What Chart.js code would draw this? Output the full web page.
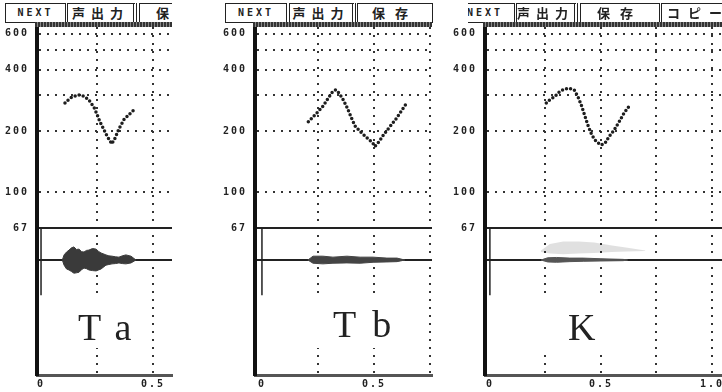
<!DOCTYPE html>
<html>
<head>
<meta charset="utf-8">
<script src="https://cdn.jsdelivr.net/npm/chart.js@4.4.1/dist/chart.umd.min.js"></script>
<style>
  html, body { margin: 0; padding: 0; background: #fff; }
  #stage { position: relative; width: 722px; height: 392px; overflow: hidden; background: #fff; }
  canvas { position: absolute; top: 0; }
  .bar { position: absolute; top: 0; height: 28px; overflow: hidden; }
  .btn { position: absolute; top: 3px; height: 20px; box-sizing: border-box; border: 1.5px solid #222;
         background: #fff; color: #222; text-align: center; white-space: nowrap; }
  .en { font: bold 10px 'DejaVu Sans Mono'; line-height: 17px; letter-spacing: 3px; }
  .jp { font: bold 13px 'Noto Sans CJK JP'; line-height: 17px; letter-spacing: 6px; }
  .dbl { border-right: 4px double #222; }
  .band { position: absolute; top: 22px; height: 5px;
          background: repeating-linear-gradient(90deg, #333 0 2px, #888 2px 3px); }
  .tag { position: absolute; background: #fff; }
  .tag span { position: absolute; font: 38px 'Liberation Serif'; line-height: 38px; color: #222; letter-spacing: 16px; }
</style>
</head>
<body>
<div id="stage">
  <canvas id="c1" width="175" height="392" style="left:0px"></canvas>
  <canvas id="c2" width="216" height="392" style="left:218px"></canvas>
  <canvas id="c3" width="274" height="392" style="left:448px"></canvas>

  <div class="bar" style="left:0px;width:172px">
    <div class="btn en" style="left:5px;width:61px">NEXT</div>
    <div class="btn jp dbl" style="left:67px;width:70px">声出力</div>
    <div class="btn jp" style="left:139px;width:80px;letter-spacing:10px">保存</div>
    <div class="band" style="left:35px;width:137px"></div>
  </div>
  <div class="bar" style="left:218px;width:216px">
    <div class="btn en" style="left:7px;width:62px">NEXT</div>
    <div class="btn jp dbl" style="left:71px;width:67px">声出力</div>
    <div class="btn jp" style="left:139px;width:76px;letter-spacing:10px">保存</div>
    <div class="band" style="left:35px;width:179px"></div>
  </div>
  <div class="bar" style="left:468px;width:254px">
    <div class="btn en" style="left:-13px;width:60px">NEXT</div>
    <div class="btn jp dbl" style="left:48px;width:62px">声出力</div>
    <div class="btn jp" style="left:112px;width:80px;letter-spacing:10px">保存</div>
    <div class="btn jp" style="left:193px;width:75px;letter-spacing:8px">コピー</div>
    <div class="band" style="left:15px;width:239px"></div>
  </div>

  <div class="tag" style="left:68px;top:298px;width:74px;height:50px"><span style="left:10px;top:10px">Ta</span></div>
  <div class="tag" style="left:312px;top:298px;width:84px;height:50px"><span style="left:21px;top:7px">Tb</span></div>
  <div class="tag" style="left:540px;top:298px;width:66px;height:52px"><span style="left:28px;top:10px">K</span></div>
</div>

<script>
// axis ticks
const yTickValues = [67, 100, 200, 300, 400, 500, 600];
const yTickLabels = ['67', '100', '200', '', '400', '', '600'];
const xTickValues = [0, 0.25, 0.5, 0.75, 1.0];
const xTickLabels = ['0', '', '0.5', '', '1.0'];

// start marker (time, amplitude)
const markerTime = [0, 0];
const markerAmp = [1, -1.1];

// Ta: pitch contour (s, Hz) and waveform envelope
const taTime = [0.107, 0.130, 0.167, 0.196, 0.219, 0.238, 0.251, 0.263, 0.278, 0.296, 0.316, 0.330, 0.349, 0.371, 0.397, 0.424];
const taF0 = [274, 290, 301, 295, 279, 259, 240, 222, 206, 188, 173, 184, 206, 228, 243, 259];
const taEnvTime = [0.095, 0.103, 0.114, 0.125, 0.136, 0.147, 0.158, 0.170, 0.181, 0.192, 0.203, 0.214, 0.230, 0.246, 0.257, 0.268, 0.290, 0.303, 0.317, 0.333, 0.348, 0.363, 0.379, 0.402, 0.424];
const taEnvTop = [0, 0.16, 0.25, 0.31, 0.38, 0.41, 0.33, 0.34, 0.26, 0.25, 0.30, 0.31, 0.36, 0.34, 0.27, 0.22, 0.16, 0.13, 0.12, 0.10, 0.09, 0.13, 0.16, 0.12, 0];
const taEnvBottom = [0, -0.16, -0.28, -0.31, -0.36, -0.41, -0.40, -0.38, -0.30, -0.25, -0.27, -0.31, -0.33, -0.34, -0.31, -0.28, -0.16, -0.14, -0.12, -0.11, -0.09, -0.11, -0.12, -0.09, 0];

// Tb
const tbTime = [0.207, 0.229, 0.251, 0.274, 0.296, 0.316, 0.330, 0.345, 0.363, 0.381, 0.400, 0.415, 0.438, 0.467, 0.494, 0.504, 0.524, 0.542, 0.571, 0.601, 0.646];
const tbF0 = [222, 235, 249, 266, 290, 312, 318, 306, 284, 259, 231, 212, 199, 186, 175, 168, 178, 191, 210, 231, 274];
const tbEnvTime = [0.205, 0.228, 0.272, 0.317, 0.379, 0.438, 0.496, 0.558, 0.603, 0.638];
const tbEnvTop = [0, 0.12, 0.12, 0.09, 0.12, 0.09, 0.09, 0.06, 0.06, 0];
const tbEnvBottom = [0, -0.10, -0.12, -0.10, -0.09, -0.10, -0.07, -0.06, -0.05, 0];

// K
const kTime = [0.254, 0.269, 0.292, 0.314, 0.336, 0.359, 0.381, 0.396, 0.411, 0.426, 0.441, 0.459, 0.478, 0.500, 0.518, 0.537, 0.559, 0.582, 0.604, 0.626];
const kF0 = [274, 284, 295, 312, 321, 324, 316, 295, 269, 240, 214, 191, 178, 171, 174, 188, 202, 222, 245, 264];
const kEnvTime = [0.23, 0.26, 0.30, 0.36, 0.42, 0.50, 0.60, 0.62];
const kEnvTop = [0, 0.07, 0.08, 0.06, 0.06, 0.04, 0.02, 0];
const kEnvBottom = [0, -0.06, -0.07, -0.05, -0.04, -0.03, -0.02, 0];
const kFaintTime = [0.23, 0.27, 0.33, 0.40, 0.47, 0.55, 0.62, 0.70];
const kFaintTop = [0.30, 0.50, 0.58, 0.58, 0.55, 0.45, 0.38, 0.30];
const kFaintBottom = [0.25, 0.20, 0.18, 0.20, 0.22, 0.25, 0.27, 0.28];

function pts(xs, ys) {
  return xs.map((x, i) => ({ x: x, y: ys[i] }));
}

const tickFont = { family: 'DejaVu Sans Mono', size: 10, weight: 'bold' };

// letter-spaced tick labels like the original screen font
const spacedText = {
  id: 'spacedText',
  beforeDraw(chart) { chart.ctx.letterSpacing = '2px'; },
  afterDraw(chart) { chart.ctx.letterSpacing = '0px'; }
};

function contour(xs, ys) {
  return { data: pts(xs, ys), yAxisID: 'y', borderColor: '#1e1e1e', borderWidth: 3.5,
           borderDash: [0, 4.2], borderCapStyle: 'round', fill: false };
}
function envelope(xs, ys, color) {
  return { data: pts(xs, ys), yAxisID: 'y2', borderColor: color, backgroundColor: color,
           borderWidth: 1, fill: 'origin' };
}
function marker() {
  return { data: pts(markerTime, markerAmp), yAxisID: 'y2', borderColor: '#222', borderWidth: 1.5, fill: false };
}

function makeChart(id, xMin, xMax, padRight, datasets) {
  return new Chart(document.getElementById(id), {
    type: 'line',
    data: { datasets: datasets },
    options: {
      responsive: false,
      animation: false,
      devicePixelRatio: 1,
      layout: { padding: { left: 3, right: padRight, top: 27, bottom: 0 } },
      plugins: { legend: { display: false }, tooltip: { enabled: false } },
      elements: { point: { radius: 0 }, line: { tension: 0 } },
      scales: {
        x: {
          type: 'linear', min: xMin, max: xMax,
          afterBuildTicks: s => { s.ticks = xTickValues.filter(v => v <= xMax).map(v => ({ value: v })); },
          afterFit: s => { s.height = 17; s.paddingLeft = 0; s.paddingRight = 0; },
          ticks: { callback: v => { const i = xTickValues.indexOf(v); return i < 0 ? '' : xTickLabels[i]; },
                   font: tickFont, color: '#222', padding: 3, maxRotation: 0, autoSkip: false },
          grid: { drawTicks: false, lineWidth: 2,
                  color: c => (c.tick && c.tick.value === 0) ? 'rgba(0,0,0,0)' : '#333' },
          border: { color: '#555', width: 3, dash: [2, 6] }
        },
        // lower (waveform) part is listed first so the log axis stacks on top
        y2: {
          type: 'linear', position: 'left', stack: 'f0', stackWeight: 147, min: -3.59, max: 1,
          afterBuildTicks: s => { s.ticks = [{ value: 0 }]; },
          afterFit: s => { s.width = 34; s.paddingTop = 0; s.paddingBottom = 0; },
          ticks: { display: false },
          grid: { drawTicks: false, lineWidth: 2, color: '#222' },
          border: { color: '#111', width: 4 }
        },
        y: {
          type: 'logarithmic', position: 'left', stack: 'f0', stackWeight: 201, min: 67, max: 646,
          afterBuildTicks: s => { s.ticks = yTickValues.map(v => ({ value: v })); },
          afterFit: s => { s.width = 34; s.paddingTop = 0; s.paddingBottom = 0; },
          ticks: { callback: v => { const i = yTickValues.indexOf(v); return i < 0 ? '' : yTickLabels[i]; },
                   font: tickFont, color: '#222', padding: 8, autoSkip: false },
          grid: { drawTicks: false, lineWidth: 2,
                  color: c => (c.tick && c.tick.value === 67) ? '#222' : '#333' },
          border: { color: '#111', width: 4,
                    dash: c => (c.tick && c.tick.value === 67) ? [] : [2, 6] }
        }
      }
    },
    plugins: [spacedText]
  });
}

makeChart('c1', -0.018, 0.585, 3, [
  contour(taTime, taF0),
  envelope(taEnvTime, taEnvTop, '#3a3a3a'),
  envelope(taEnvTime, taEnvBottom, '#3a3a3a'),
  marker()
]);

makeChart('c2', -0.031, 0.759, 2, [
  contour(tbTime, tbF0),
  envelope(tbEnvTime, tbEnvTop, '#444'),
  envelope(tbEnvTime, tbEnvBottom, '#444'),
  marker()
]);

makeChart('c3', -0.022, 1.045, 0, [
  contour(kTime, kF0),
  envelope(kEnvTime, kEnvTop, '#555'),
  envelope(kEnvTime, kEnvBottom, '#555'),
  { data: pts(kFaintTime, kFaintTop), yAxisID: 'y2', borderWidth: 0, borderColor: 'rgba(0,0,0,0)',
    backgroundColor: 'rgba(0,0,0,0.12)', fill: '+1' },
  { data: pts(kFaintTime, kFaintBottom), yAxisID: 'y2', borderWidth: 0, borderColor: 'rgba(0,0,0,0)', fill: false },
  marker()
]);
</script>
</body>
</html>
